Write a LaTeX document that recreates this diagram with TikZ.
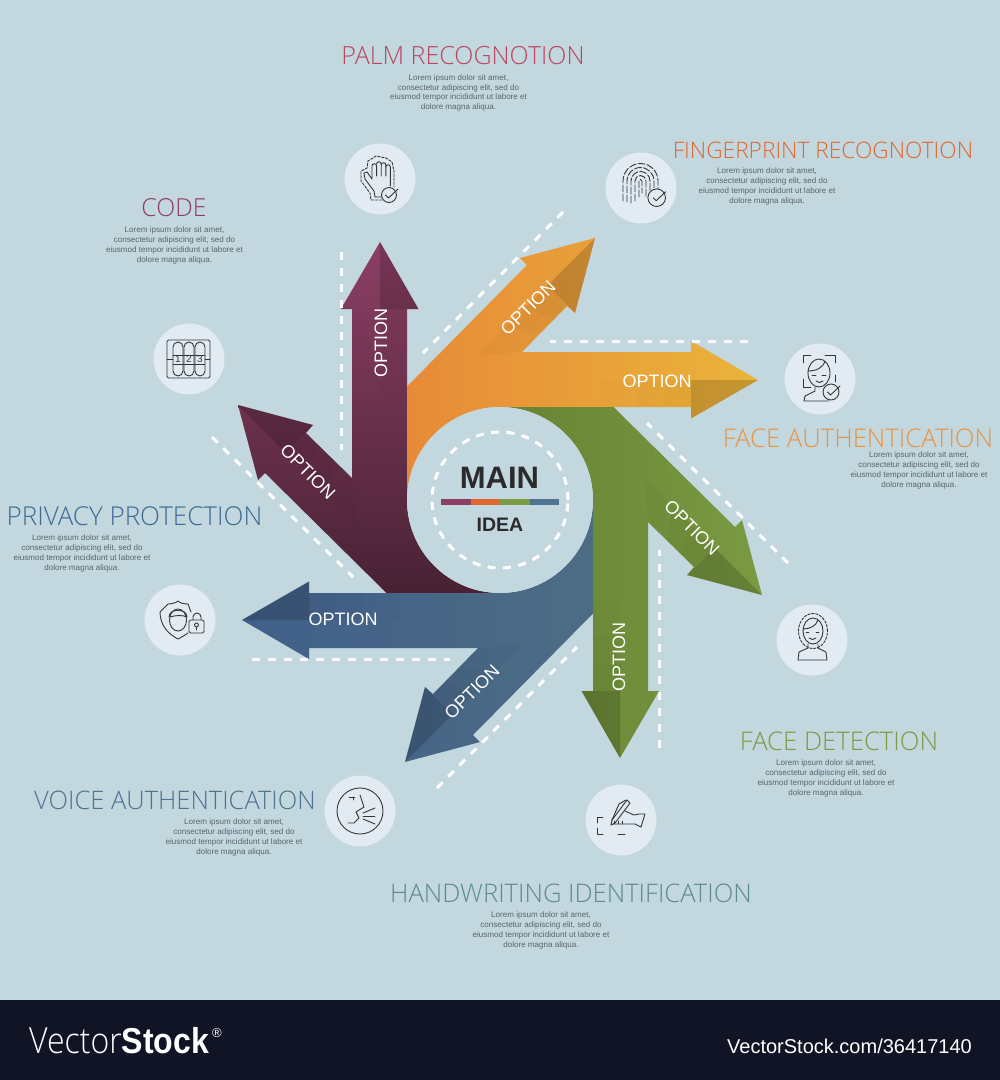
\documentclass[tikz,border=0pt]{standalone}
\usepackage{fontspec}
\setmainfont{Liberation Sans}
\newfontfamily\thinfont{Open Sans Light}
\definecolor{backdrop}{HTML}{C3D7DF}
\definecolor{footbar}{HTML}{111425}
\definecolor{iconfill}{HTML}{E1EBF1}
\definecolor{iconink}{HTML}{30383E}
\definecolor{bodyink}{HTML}{5A646C}
\definecolor{mainink}{HTML}{2B2B2B}
\definecolor{maroontop}{HTML}{8C3F64}
\definecolor{maroonlow}{HTML}{482234}
\definecolor{orangelow}{HTML}{E78A38}
\definecolor{orangetop}{HTML}{EAB43A}
\definecolor{greenlow}{HTML}{678334}
\definecolor{greentop}{HTML}{7A9A42}
\definecolor{bluetop}{HTML}{40608A}
\definecolor{bluelow}{HTML}{4D6C84}
\definecolor{palmink}{HTML}{B8485F}
\definecolor{codeink}{HTML}{8F3D66}
\definecolor{fingerink}{HTML}{E0672E}
\definecolor{authink}{HTML}{EA9440}
\definecolor{detectink}{HTML}{7A9C45}
\definecolor{handink}{HTML}{5E8C8A}
\definecolor{voiceink}{HTML}{4F7390}
\definecolor{privacyink}{HTML}{3E6A94}
\tikzset{
  dashline/.style  = {draw=white, line width=3pt, dash pattern=on 8pt off 8pt},
  foldside/.style  = {fill=black, opacity=0.16},
  foldtail/.style  = {fill=black, opacity=0.022},
  foldfaint/.style = {fill=black, opacity=0.01},
  optionlabel/.style = {text=white, font=\fontsize{18}{18}\selectfont, inner sep=0pt},
  iconspot/.style  = {circle, fill=iconfill, minimum size=71pt, inner sep=0pt},
  iconline/.style  = {draw=iconink, line width=0.9pt, line cap=round, line join=round},
  titlelabel/.style = {font=\thinfont\fontsize{#1}{#1}\selectfont, inner sep=0pt},
  bodylabel/.style = {text=bodyink, align=center, inner sep=0pt,
                      font=\fontsize{8.07}{9.75}\selectfont}
}
% one petal: two arrows drawn once and turned round the middle
\newcommand{\ideapetal}[5]{
  \begin{scope}[rotate around={#1:(500,500)}]
    \shade[#2] (500,593) arc[start angle=270, end angle=180, radius=93pt]
      -- (407,309) -- (418.5,309) -- (380,242) -- (341,309) -- (352,309)
      -- (352,478) -- (306,433) -- (313,425) -- (238,405) -- (258,480)
      -- (265,473) -- (386.5,593) -- cycle;
    \fill[foldside] (380,242) -- (418.5,309) -- (380,309) -- cycle;
    \fill[foldside] (238,405) -- (313,425) -- (285.5,452.5) -- cycle;
    \foreach \reach in {0.3,0.6,1}{
      \fill[foldfaint] (380,309) -- (407,309) -- (407,309+90*\reach) -- (380,309+90*\reach) -- cycle;
      \fill[foldtail] (285.5,452.5) -- (306,433) -- (306+46*\reach,433+45*\reach)
        -- (285.5+70.5*\reach,452.5+70.5*\reach) -- cycle;
    }
    \draw[dashline] (341,252) -- (341,450);
    \draw[dashline] (212,437) -- (353,577);
    \node[optionlabel, rotate=#3] (#5up) at (381,343) {OPTION};
    \node[optionlabel, rotate=#4] (#5slant) at (308,472) {OPTION};
  \end{scope}
}
\newcommand{\iconbadge}[3]{
  \draw[iconline, fill=iconfill] (#1,#2) circle[radius=#3pt];
  \draw[iconline] (#1-3.5,#2) -- (#1-0.5,#2+3) -- (#1+9,#2-6);
}
\begin{document}
\begin{tikzpicture}[x=1pt, y=-1pt]
  \useasboundingbox (0,0) rectangle (1000,1080);
  \fill[backdrop] (0,0) rectangle (1000,1000);
  \fill[footbar] (0,1000) rectangle (1000,1080);

  \ideapetal{0}{top color=maroontop, bottom color=maroonlow}{90}{-45}{maroon}
  \ideapetal{-90}{left color=orangelow, right color=orangetop}{0}{45}{orange}
  \ideapetal{-180}{left color=greenlow, right color=greentop}{90}{-45}{green}
  \ideapetal{-270}{left color=bluetop, right color=bluelow}{0}{45}{blue}

  % middle
  \node[circle, fill=backdrop, minimum size=186pt, inner sep=0pt] (middle) at (500,500) {};
  \draw[dashline, dash pattern=on 8pt off 7.4pt] (middle.center) circle[radius=68pt];
  \node[text=mainink, inner sep=0pt, font=\bfseries\fontsize{31}{31}\selectfont] (mainword) at (499.5,478) {MAIN};
  \node[text=mainink, inner sep=0pt, font=\bfseries\fontsize{19.5}{19.5}\selectfont] (ideaword) at (500,525) {IDEA};
  \fill[maroontop] (441,499) rectangle (470.5,505);
  \fill[fingerink] (470.5,499) rectangle (500,505);
  \fill[detectink] (500,499) rectangle (529.5,505);
  \fill[voiceink] (529.5,499) rectangle (559,505);

  % titles
  \node[titlelabel=25, text=palmink] (palmtitle) at (463,56) {PALM RECOGNOTION};
  \node[titlelabel=24.8, text=codeink] (codetitle) at (174,208) {CODE};
  \node[titlelabel=22.7, text=fingerink] (fingertitle) at (823,150) {FINGERPRINT RECOGNOTION};
  \node[titlelabel=25.7, text=authink] (authtitle) at (858,438) {FACE AUTHENTICATION};
  \node[titlelabel=25.7, text=detectink] (detecttitle) at (839,741) {FACE DETECTION};
  \node[titlelabel=25.6, text=handink] (handtitle) at (571,893) {HANDWRITING IDENTIFICATION};
  \node[titlelabel=25.5, text=voiceink] (voicetitle) at (175,800) {VOICE AUTHENTICATION};
  \node[titlelabel=26, text=privacyink] (privacytitle) at (134.5,516) {PRIVACY PROTECTION};

  % text under titles
  \newcommand{\loremtext}{Lorem ipsum dolor sit amet,\\consectetur adipiscing elit, sed do\\eiusmod tempor incididunt ut labore et\\dolore magna aliqua.}
  \node[bodylabel] (palmbody) at (458.5,93) {\loremtext};
  \node[bodylabel] (codebody) at (174.5,245.5) {\loremtext};
  \node[bodylabel] (fingerbody) at (767,186.5) {\loremtext};
  \node[bodylabel] (authbody) at (919,470.5) {\loremtext};
  \node[bodylabel] (detectbody) at (826,778.5) {\loremtext};
  \node[bodylabel] (handbody) at (541,930.5) {\loremtext};
  \node[bodylabel] (voicebody) at (234,837.5) {\loremtext};
  \node[bodylabel] (privacybody) at (82,553.5) {\loremtext};

  % icon spots
  \node[iconspot] (palmspot) at (380,179) {};
  \node[iconspot] (fingerspot) at (641,188) {};
  \node[iconspot] (authspot) at (820,379) {};
  \node[iconspot] (detectspot) at (812,640) {};
  \node[iconspot] (handspot) at (621,820) {};
  \node[iconspot] (voicespot) at (360,811) {};
  \node[iconspot] (privacyspot) at (180,620) {};
  \node[iconspot] (codespot) at (189,359) {};

  % palm
  \begin{scope}[shift={(380,179)}]
    \draw[iconline] (3,18) -- (-5,18) -- (-6,12) -- (-15,0) -- (-16,-6) -- (-13,-7) -- (-8,0)
      -- (-8,-13) arc[start angle=180, end angle=0, radius=2.3pt] -- (-3.4,-3);
    \draw[iconline] (-3.4,-15) arc[start angle=180, end angle=0, radius=2.3pt] -- (1.2,-3);
    \draw[iconline] (1.2,-14) arc[start angle=180, end angle=0, radius=2.3pt] -- (5.8,-3);
    \draw[iconline] (5.8,-12) arc[start angle=180, end angle=0, radius=2.3pt] -- (10.4,7);
    \draw[iconline, dash pattern=on 2.5pt off 1.5pt] (2,21) -- (-9,21) -- (-10,14) -- (-19,2) -- (-19,-8) -- (-13,-11)
      -- (-12,-18) -- (-4,-23) -- (6,-21) -- (12,-17) -- (14,-8) -- (14,8);
    \iconbadge{9}{16}{7.5}
  \end{scope}

  % fingerprint
  \begin{scope}[shift={(641,188)}]
    \foreach \ridge/\drop in {17.5/13, 13.5/14, 9.5/15, 5.5/13, 1.5/9}{
      \draw[iconline, dash pattern=on 7pt off 2pt] (-0.5-\ridge,\drop)
        -- (-0.5-\ridge,-7) arc[start angle=180, end angle=0, radius=\ridge pt] -- (-0.5+\ridge,\drop-4);
    }
    \iconbadge{15.7}{9.7}{8.8}
  \end{scope}

  % face authentication
  \begin{scope}[shift={(820,379)}]
    \draw[iconline] (-17,-16) -- (-17,-24) -- (-9,-24);
    \draw[iconline] (5,-24) -- (15,-24) -- (15,-16);
    \draw[iconline] (-17,0) -- (-17,8) -- (-9,8);
    \draw[iconline] (15,-4) -- (15,3);
    \draw[iconline] (-1,-6) ellipse[x radius=11pt, y radius=14pt];
    \draw[iconline] (-12,-8) .. controls (-4,-8) and (3,-11) .. (5,-18);
    \draw[iconline] (-8,-4) -- (-4,-4);
    \draw[iconline] (2,-4) -- (6,-4);
    \draw[iconline] (-4,2) .. controls (-2,4) and (1,4) .. (3,2);
    \draw[iconline] (-5,8) -- (-5,12) -- (-15,17) -- (-16,22) -- (9,22);
    \iconbadge{11}{13}{8}
  \end{scope}

  % face detection
  \begin{scope}[shift={(812,640)}]
    \draw[iconline, dash pattern=on 2.5pt off 1.5pt] (1,-9) ellipse[x radius=14.5pt, y radius=17.5pt];
    \draw[iconline] (1,-9) ellipse[x radius=10pt, y radius=13pt];
    \draw[iconline] (-9,-11) .. controls (-2,-11) and (4,-14) .. (6,-20);
    \draw[iconline] (-6,-8) -- (-3,-8);
    \draw[iconline] (4,-8) -- (7,-8);
    \draw[iconline] (-3,-2) .. controls (-1,0) and (2,0) .. (4,-2);
    \draw[iconline] (-4,4) -- (-4,8) -- (-13,12) -- (-14,20) -- (15,20) -- (14,12) -- (6,8) -- (6,4);
  \end{scope}

  % handwriting
  \begin{scope}[shift={(621,820)}]
    \draw[iconline] (-18,-3) -- (-24,-3) -- (-24,3);
    \draw[iconline] (-24,8) -- (-24,14) -- (-18,14);
    \draw[iconline] (-3,14) -- (4,14);
    \draw[iconline] (6,-20) -- (9,-17) -- (-6,3) -- (-10,5) -- (-9,0) -- cycle;
    \draw[iconline] (-9,0) -- (-2,-16) -- (5,-20);
    \draw[iconline] (4,-9) -- (13,-5) -- (18,-6) -- (24,-6) -- (20,7);
    \draw[iconline] (20,7) -- (14,4) -- (-8,4);
    \draw[iconline] (-7,4) -- (-7,1);
    \draw[iconline] (-3,4) -- (-3,1);
    \draw[iconline] (1,4) -- (1,1);
  \end{scope}

  % voice
  \begin{scope}[shift={(360,811)}]
    \draw[iconline] (0,0) circle[radius=23pt];
    \draw[iconline] (0,-16) -- (4,-4) -- (-4,1) -- (-1,7) -- (-6,12) -- (-12,12);
    \draw[iconline] (-11,-14) -- (-5,-14);
    \draw[iconline] (-7,-14) -- (-7,-11);
    \draw[iconline] (3,2) -- (15,-3);
    \draw[iconline] (3,5) -- (15,5);
    \draw[iconline] (3,8) -- (15,13);
  \end{scope}

  % privacy
  \begin{scope}[shift={(180,620)}]
    \draw[iconline] (11,-8) -- (8,-16) .. controls (4,-16) and (0,-17) .. (-2,-19)
      .. controls (-4,-17) and (-9,-16) .. (-12,-16) -- (-20,-8)
      .. controls (-20,5) and (-12,14) .. (-2,19) .. controls (2,17) and (5,15) .. (8,13);
    \draw[iconline] (-2,0) ellipse[x radius=8.5pt, y radius=11pt];
    \draw[iconline] (-11,-3) .. controls (-11,-12) and (7,-12) .. (7,-3);
    \draw[iconline] (-10,-3) .. controls (-4,-5) and (3,-5) .. (7,-3);
    \draw[iconline, fill=iconfill, rounded corners=1.5pt] (9,0) rectangle (24,13);
    \draw[iconline] (13,0) -- (13,-3) arc[start angle=180, end angle=0, radius=4pt] -- (21,0);
    \draw[iconline] (16.5,5) circle[radius=2pt];
    \draw[iconline] (16.5,7) -- (16.5,10);
  \end{scope}

  % code
  \begin{scope}[shift={(189,359)}]
    \draw[iconline, rounded corners=1.5pt] (-22,-19) rectangle (21,19);
    \draw[iconline, rounded corners=5pt] (-16,-17) rectangle (-6,17);
    \draw[iconline, rounded corners=5pt] (-5,-17) rectangle (5,17);
    \draw[iconline, rounded corners=5pt] (6,-17) rectangle (16,17);
    \draw[iconline] (-22,0) -- (-16,0);
    \draw[iconline] (16,0) -- (21,0);
    \draw[iconline] (-16,-4) -- (16,-4);
    \draw[iconline] (-16,5) -- (16,5);
    \node[text=iconink, inner sep=0pt, font=\fontsize{10}{10}\selectfont] (digitone) at (-11,0.5) {1};
    \node[text=iconink, inner sep=0pt, font=\fontsize{10}{10}\selectfont] (digittwo) at (0,0.5) {2};
    \node[text=iconink, inner sep=0pt, font=\fontsize{10}{10}\selectfont] (digitthree) at (11,0.5) {3};
  \end{scope}

  % footer
  \node[text=white, anchor=base west, inner sep=0pt, font=\fontsize{36}{36}\selectfont] (brand) at (29,1053)
    {\scalebox{.89}[1]{{\thinfont Vector}{\bfseries Stock}}};
  \node[text=white, inner sep=0pt, font=\fontsize{13}{13}\selectfont] (brandmark) at (217,1033) {\textregistered};
  \node[text=white, anchor=base east, inner sep=0pt, font=\fontsize{20}{20}\selectfont] (brandlink) at (972,1053) {VectorStock.com/36417140};
\end{tikzpicture}
\end{document}
